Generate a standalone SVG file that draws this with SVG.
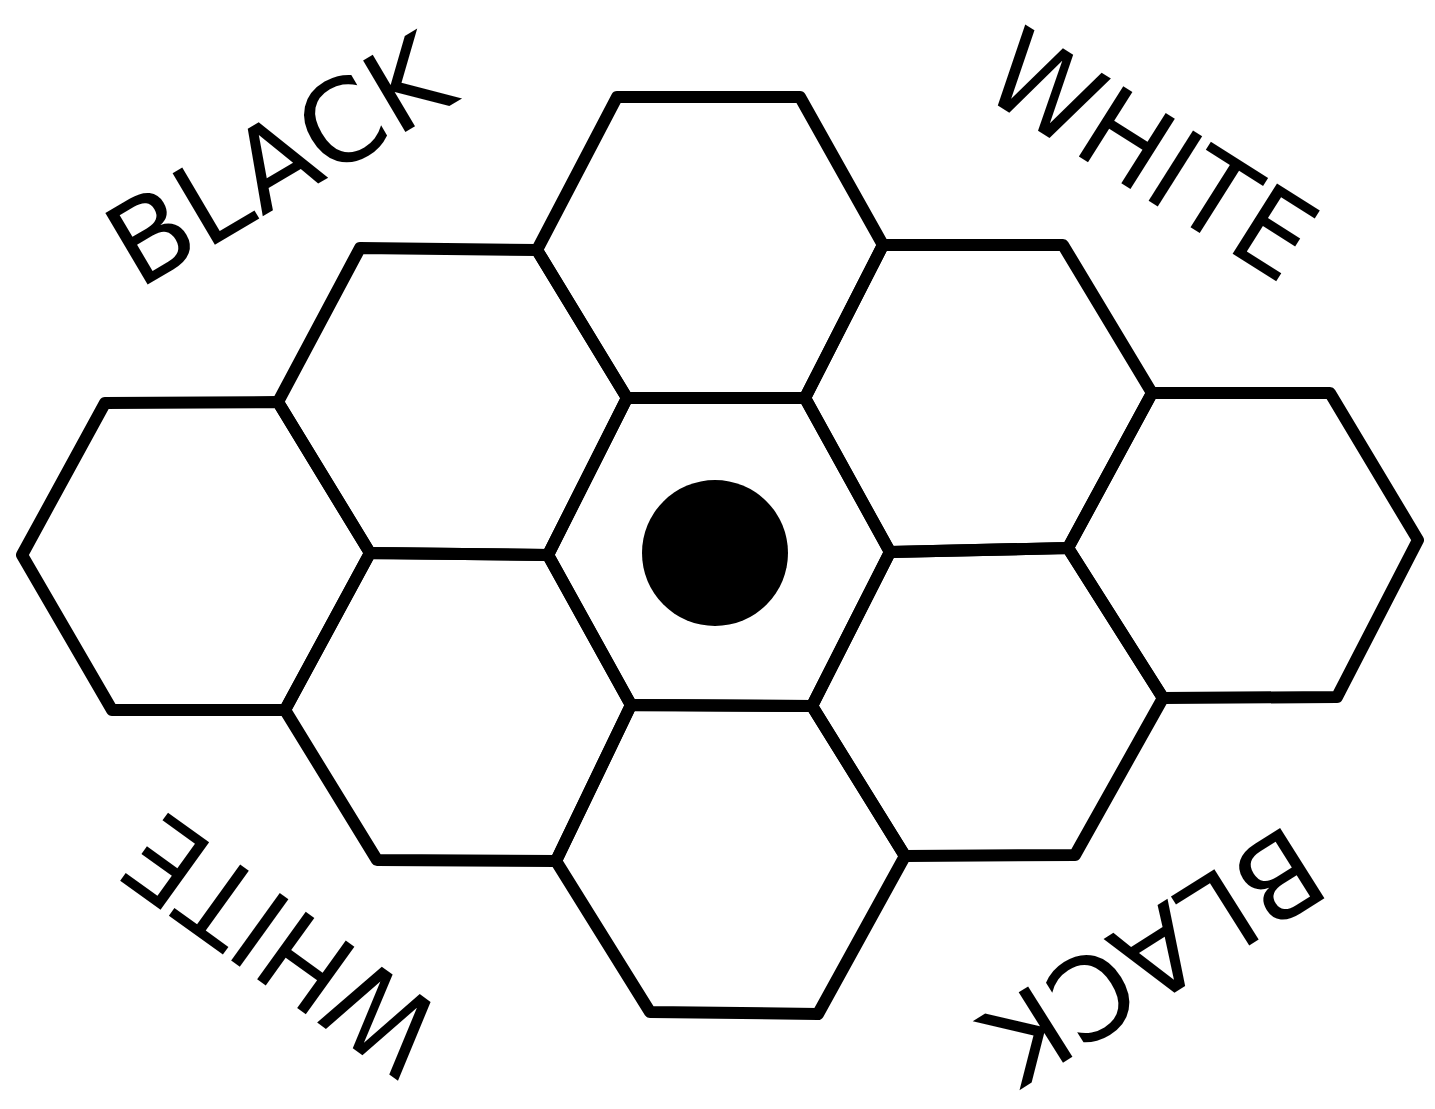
<svg xmlns="http://www.w3.org/2000/svg" width="1435" height="1109" viewBox="0 0 1435 1109">
<style>
.hex{fill:none;stroke:#000;stroke-width:12;stroke-linejoin:round}
.lbl{font-family:"DejaVu Sans","Liberation Sans",sans-serif;font-size:114px;fill:#000;text-anchor:middle}
</style>
<rect width="1435" height="1109" fill="#fff"/>
<g id="hex-top"><polygon class="hex" points="617,97 800,97 883,245 805,398 627,398 537,250"/></g>
<g id="hex-upper-left"><polygon class="hex" points="360,248 537,250 627,398 548,555 370,553 278,402"/></g>
<g id="hex-upper-right"><polygon class="hex" points="883,245 1063,245 1152,393 1068,548 890,552 805,398"/></g>
<g id="hex-left"><polygon class="hex" points="105,403 278,402 370,553 285,710 112,710 22,555"/></g>
<g id="hex-center"><polygon class="hex" points="627,398 805,398 890,552 812,706 631,705 548,555"/><circle cx="715" cy="553" r="73" fill="#000"/></g>
<g id="hex-right"><polygon class="hex" points="1152,393 1330,393 1418,540 1337,697 1163,698 1068,548"/></g>
<g id="hex-lower-left"><polygon class="hex" points="370,553 548,555 631,705 556,861 377,860 285,710"/></g>
<g id="hex-lower-right"><polygon class="hex" points="890,552 1068,548 1163,698 1075,855 905,856 812,706"/></g>
<g id="hex-bottom"><polygon class="hex" points="631,705 812,706 905,856 818,1014 650,1012 556,861"/></g>
<g id="connectors"></g>
<g id="labels">
<text class="lbl" transform="translate(299,195) rotate(-30.6)" textLength="374" lengthAdjust="spacingAndGlyphs">BLACK</text>
<text class="lbl" transform="translate(1130,189) rotate(32.3)" textLength="360" lengthAdjust="spacingAndGlyphs">WHITE</text>
<text class="lbl" transform="translate(306,912) rotate(215.8)" textLength="354" lengthAdjust="spacingAndGlyphs">WHITE</text>
<text class="lbl" transform="translate(1132,921) rotate(147.8)" textLength="372" lengthAdjust="spacingAndGlyphs">BLACK</text>
</g>
</svg>
